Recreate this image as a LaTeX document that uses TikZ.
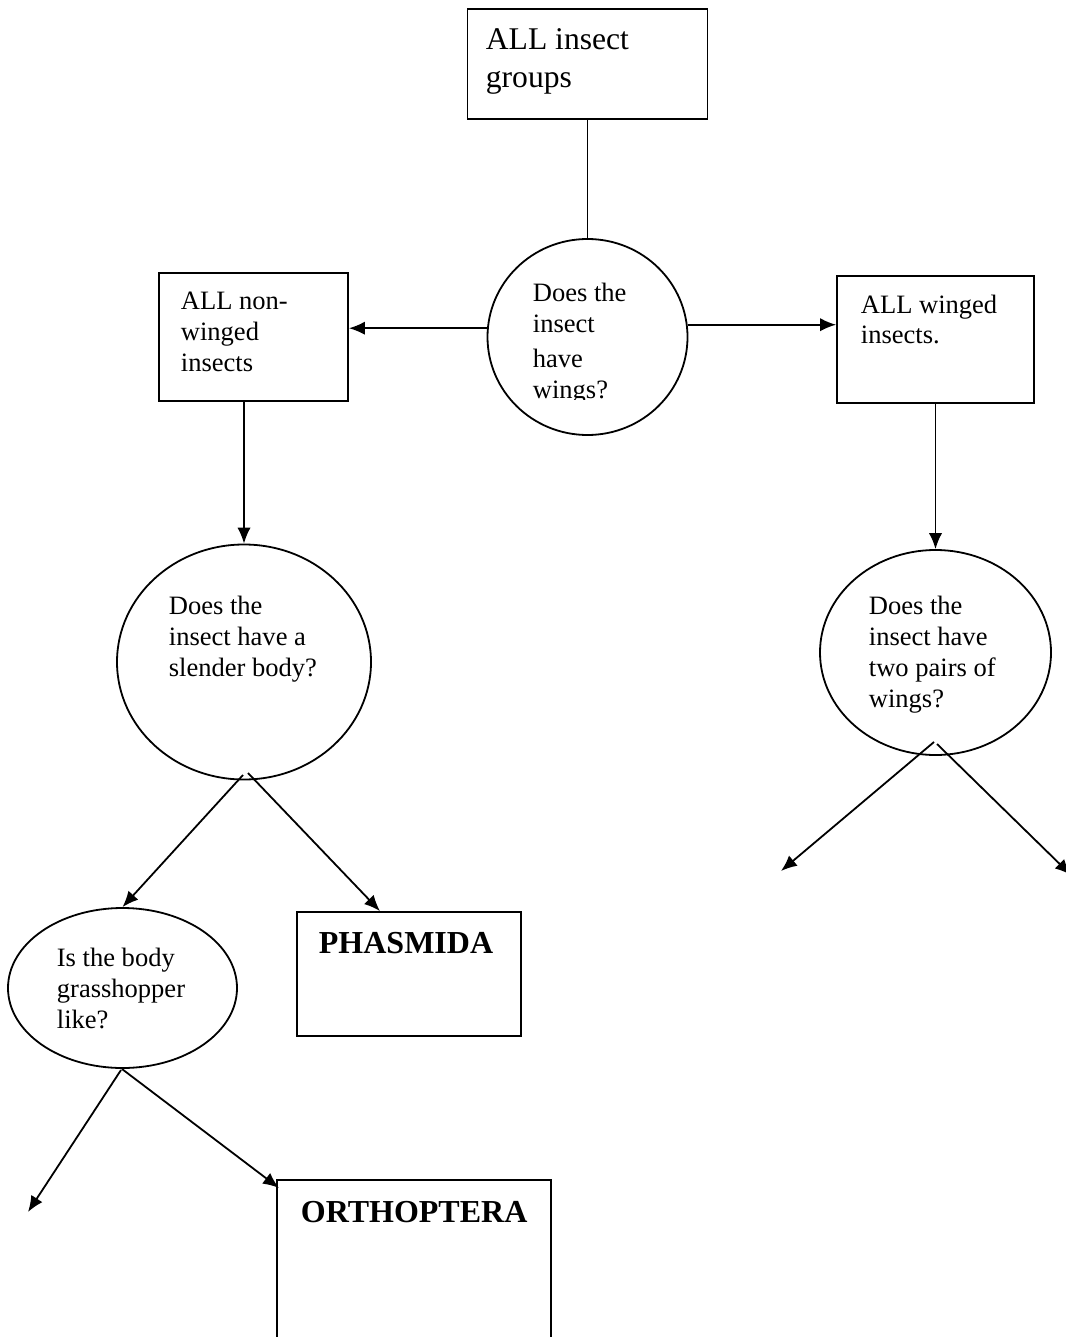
\documentclass[tikz,border=0pt]{standalone}
\usepackage{fontspec}
\setmainfont{Liberation Serif}
\usetikzlibrary{arrows.meta,shapes.geometric}
\begin{document}
\begin{tikzpicture}[x=0.75pt,y=-0.75pt,line width=1.35pt,
  box/.style={draw,rectangle,inner sep=0pt},
  bub/.style={draw,ellipse,inner sep=0pt},
  lbl/.style={anchor=base west,inner sep=0pt,align=left,
    font=\fontsize{19.9}{23.2}\selectfont},
  biglbl/.style={lbl,font=\fontsize{23.7}{28.5}\selectfont},
  boldlbl/.style={lbl,font=\fontsize{24}{28}\selectfont\bfseries},
  arr/.style={-{Latex[length=12pt,width=10pt]}}]
\useasboundingbox (0,0) rectangle (1066,1337);
% shapes
\node[box,minimum width=0.75pt*240,minimum height=0.75pt*110] (top) at (587.5,64) {};
\node[bub,minimum width=0.75pt*200,minimum height=0.75pt*196] (q1) at (587.5,337) {};
\node[box,minimum width=0.75pt*189,minimum height=0.75pt*128] (nw) at (253.5,337) {};
\node[box,minimum width=0.75pt*197,minimum height=0.75pt*127] (wg) at (935.5,339.5) {};
\node[bub,minimum width=0.75pt*254,minimum height=0.75pt*235] (q2) at (244,662) {};
\node[bub,minimum width=0.75pt*231,minimum height=0.75pt*205] (q4) at (935.5,652.5) {};
\node[bub,minimum width=0.75pt*229,minimum height=0.75pt*160] (q3) at (122.5,988) {};
\node[box,minimum width=0.75pt*224,minimum height=0.75pt*124] (ph) at (409,974) {};
\node[box,minimum width=0.75pt*274,minimum height=0.75pt*240] (or) at (414,1300) {};
% texts (anchored at the baseline of their last line)
\node[biglbl] (ttop) at (485,88) {ALL insect\\groups};
\node[lbl] (tnw) at (180,371) {ALL non-\\winged\\insects};
\node[lbl] (twg) at (860,344) {ALL winged\\insects.};
\begin{scope}
\clip (480,240) rectangle (700,399);
\node[lbl] (tq1) at (532,398) {Does the\\insect\\[3pt]have\\wings?};
\end{scope}
\node[lbl] (tq2) at (168,676) {Does the\\insect have a\\slender body?};
\node[lbl] (tq4) at (868,707) {Does the\\insect have\\two pairs of\\wings?};
\node[lbl] (tq3) at (56,1028) {Is the body\\grasshopper\\like?};
\node[boldlbl] (tph) at (318,953) {PHASMIDA};
\node[boldlbl] (tor) at (300,1222) {ORTHOPTERA};
% helper coordinates
\coordinate (s2a) at (243,775);
\coordinate (s2b) at (248,773);
\coordinate (x380) at (380,0);
\coordinate (s3a) at (121,1070);
\coordinate (s3b) at (122,1069);
\coordinate (e3a) at (28,1212);
\coordinate (e3b) at (279,1188);
\coordinate (s4a) at (934,742);
\coordinate (s4b) at (937,744);
\coordinate (e4a) at (781,871);
\coordinate (e4b) at (1071,875);
% connectors
\draw (top.south) -- (q1.north);
\draw[arr] (q1.175) -- (q1.175 -| nw.east);
\draw[arr] (q1.7) -- (q1.7 -| wg.west);
\draw[arr] (nw.south -| q2.north) -- (q2.north);
\draw[arr] (wg.south) -- (q4.north);
\draw[arr] (s2a) -- (q3.north);
\draw[arr] (s2b) -- (ph.north -| x380);
\draw[arr] (s3a) -- (e3a);
\draw[arr] (s3b) -- (e3b);
\draw[arr] (s4a) -- (e4a);
\draw[arr] (s4b) -- (e4b);
\end{tikzpicture}
\end{document}
